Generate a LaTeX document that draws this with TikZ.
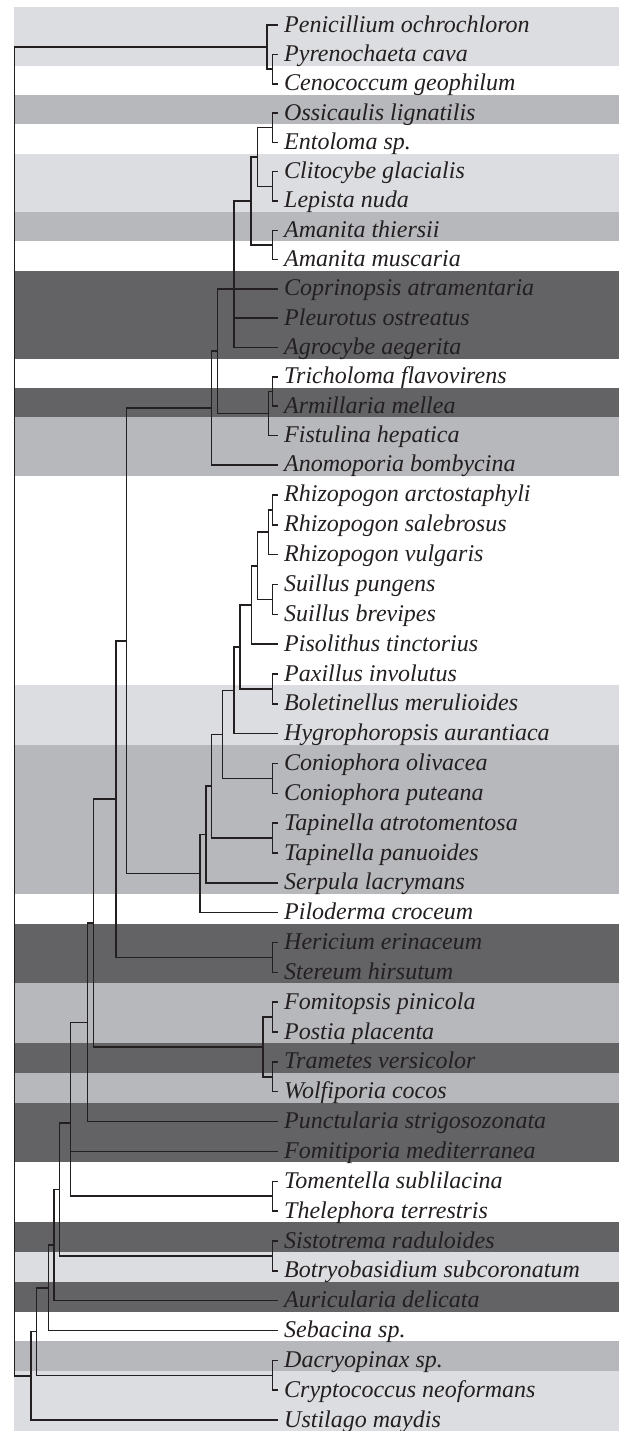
\documentclass[tikz,border=0pt]{standalone}
\usepackage{fontspec}
\setmainfont{Liberation Serif}
\usetikzlibrary{calc}

\definecolor{ink}{RGB}{35,31,32}
\definecolor{bandlight}{RGB}{220,221,224}
\definecolor{bandmid}{RGB}{183,184,188}
\definecolor{banddark}{RGB}{99,99,102}

\begin{document}
\begin{tikzpicture}[x=1pt, y=-1pt,
		taxon/.style={anchor=west, inner xsep=6.5pt, inner ysep=0pt, text height=17pt, text depth=3pt, text=ink, font=\fontsize{24}{28}\selectfont\itshape},
		branch/.style={draw=ink, line width=1.5pt}]
		%canvas
		\fill[white] (0,0) rectangle (619,1431);
		
		%variables
		\def\tip{277.5}
		\def\ch{272.5}
		
		%bands
		\fill[bandlight] (14,7) rectangle (619,65.6);
		\fill[bandmid] (14,94.9) rectangle (619,124.2);
		\fill[bandlight] (14,153.6) rectangle (619,212.2);
		\fill[bandmid] (14,212.2) rectangle (619,241.5);
		\fill[banddark] (14,270.8) rectangle (619,358.7);
		\fill[banddark] (14,388.0) rectangle (619,417.3);
		\fill[bandmid] (14,417.3) rectangle (619,476);
		\fill[bandlight] (14,684.9) rectangle (619,744.6);
		\fill[bandmid] (14,744.6) rectangle (619,893.8);
		\fill[banddark] (14,923.6) rectangle (619,983.3);
		\fill[bandmid] (14,983.3) rectangle (619,1043.0);
		\fill[banddark] (14,1043.0) rectangle (619,1072.8);
		\fill[bandmid] (14,1072.8) rectangle (619,1102.7);
		\fill[banddark] (14,1102.7) rectangle (619,1162.4);
		\fill[banddark] (14,1222.0) rectangle (619,1251.8);
		\fill[bandlight] (14,1251.8) rectangle (619,1281.7);
		\fill[banddark] (14,1281.7) rectangle (619,1311.5);
		\fill[bandmid] (14,1341.4) rectangle (619,1371.2);
		\fill[bandlight] (14,1371.2) rectangle (619,1431);
		
		%taxa
		\node[taxon] (pen) at (\tip,25.2) {Penicillium ochrochloron};
		\node[taxon] (pyr) at (\tip,54.5) {Pyrenochaeta cava};
		\node[taxon] (cen) at (\tip,83.8) {Cenococcum geophilum};
		\node[taxon] (oss) at (\tip,113.1) {Ossicaulis lignatilis};
		\node[taxon] (ent) at (\tip,142.4) {Entoloma sp.};
		\node[taxon] (cli) at (\tip,171.7) {Clitocybe glacialis};
		\node[taxon] (lep) at (\tip,201.0) {Lepista nuda};
		\node[taxon] (ath) at (\tip,230.3) {Amanita thiersii};
		\node[taxon] (amu) at (\tip,259.6) {Amanita muscaria};
		\node[taxon] (cop) at (\tip,288.9) {Coprinopsis atramentaria};
		\node[taxon] (ple) at (\tip,318.2) {Pleurotus ostreatus};
		\node[taxon] (agr) at (\tip,347.5) {Agrocybe aegerita};
		\node[taxon] (tri) at (\tip,376.9) {Tricholoma flavovirens};
		\node[taxon] (arm) at (\tip,406.2) {Armillaria mellea};
		\node[taxon] (fis) at (\tip,435.5) {Fistulina hepatica};
		\node[taxon] (ano) at (\tip,464.8) {Anomoporia bombycina};
		\node[taxon] (rar) at (\tip,494.9) {Rhizopogon arctostaphyli};
		\node[taxon] (rsa) at (\tip,524.8) {Rhizopogon salebrosus};
		\node[taxon] (rvu) at (\tip,554.6) {Rhizopogon vulgaris};
		\node[taxon] (spu) at (\tip,584.4) {Suillus pungens};
		\node[taxon] (sbr) at (\tip,614.3) {Suillus brevipes};
		\node[taxon] (pis) at (\tip,644.1) {Pisolithus tinctorius};
		\node[taxon] (pax) at (\tip,674.0) {Paxillus involutus};
		\node[taxon] (bol) at (\tip,703.8) {Boletinellus merulioides};
		\node[taxon] (hyg) at (\tip,733.6) {Hygrophoropsis aurantiaca};
		\node[taxon] (col) at (\tip,763.5) {Coniophora olivacea};
		\node[taxon] (cpu) at (\tip,793.3) {Coniophora puteana};
		\node[taxon] (tat) at (\tip,823.2) {Tapinella atrotomentosa};
		\node[taxon] (tpa) at (\tip,853.0) {Tapinella panuoides};
		\node[taxon] (ser) at (\tip,882.9) {Serpula lacrymans};
		\node[taxon] (pil) at (\tip,912.7) {Piloderma croceum};
		\node[taxon] (her) at (\tip,942.5) {Hericium erinaceum};
		\node[taxon] (ste) at (\tip,972.4) {Stereum hirsutum};
		\node[taxon] (fpi) at (\tip,1002.2) {Fomitopsis pinicola};
		\node[taxon] (pos) at (\tip,1032.1) {Postia placenta};
		\node[taxon] (tve) at (\tip,1061.9) {Trametes versicolor};
		\node[taxon] (wol) at (\tip,1091.7) {Wolfiporia cocos};
		\node[taxon] (pun) at (\tip,1121.6) {Punctularia strigosozonata};
		\node[taxon] (fme) at (\tip,1151.4) {Fomitiporia mediterranea};
		\node[taxon] (tom) at (\tip,1181.3) {Tomentella sublilacina};
		\node[taxon] (thel) at (\tip,1211.1) {Thelephora terrestris};
		\node[taxon] (sis) at (\tip,1241.0) {Sistotrema raduloides};
		\node[taxon] (bot) at (\tip,1270.8) {Botryobasidium subcoronatum};
		\node[taxon] (aur) at (\tip,1300.6) {Auricularia delicata};
		\node[taxon] (seb) at (\tip,1330.5) {Sebacina sp.};
		\node[taxon] (dac) at (\tip,1360.3) {Dacryopinax sp.};
		\node[taxon] (cry) at (\tip,1390.2) {Cryptococcus neoformans};
		\node[taxon] (ust) at (\tip,1420.0) {Ustilago maydis};
		
		%clades (x fixed, y halfway between children)
		\path let \p1=($(pyr)!.5!(cen)$) in coordinate (asc2) at (\ch,\y1);
		\path let \p1=($(pen)!.5!(asc2)$) in coordinate (asc1) at (267,\y1);
		
		\path let \p1=($(oss)!.5!(ent)$) in coordinate (ag1) at (\ch,\y1);
		\path let \p1=($(cli)!.5!(lep)$) in coordinate (ag2) at (\ch,\y1);
		\path let \p1=($(ag1)!.5!(ag2)$) in coordinate (ag3) at (257.3,\y1);
		\path let \p1=($(ath)!.5!(amu)$) in coordinate (ag4) at (\ch,\y1);
		\path let \p1=($(ag3)!.5!(ag4)$) in coordinate (ag5) at (251,\y1);
		\path let \p1=($.25*(ag5)+.25*(cop)+.25*(ple)+.25*(agr)$) in coordinate (ag6) at (234,\y1);
		\path let \p1=($(tri)!.5!(arm)$) in coordinate (ag7) at (\ch,\y1);
		\path let \p1=($(ag7)!.5!(fis)$) in coordinate (ag8) at (268.3,\y1);
		\path let \p1=($(ag6)!.5!(ag8)$) in coordinate (ag9) at (217.3,\y1);
		\path let \p1=($(ag9)!.5!(ano)$) in coordinate (ag10) at (211.5,\y1);
		
		\path let \p1=($(rar)!.5!(rsa)$) in coordinate (bo1) at (\ch,\y1);
		\path let \p1=($(bo1)!.5!(rvu)$) in coordinate (bo2) at (268.3,\y1);
		\path let \p1=($(spu)!.5!(sbr)$) in coordinate (bo3) at (\ch,\y1);
		\path let \p1=($(bo2)!.5!(bo3)$) in coordinate (bo4) at (257.3,\y1);
		\path let \p1=($(bo4)!.5!(pis)$) in coordinate (bo5) at (251.5,\y1);
		\path let \p1=($(pax)!.5!(bol)$) in coordinate (bo6) at (\ch,\y1);
		\path let \p1=($(bo5)!.5!(bo6)$) in coordinate (bo7) at (240,\y1);
		\path let \p1=($(bo7)!.5!(hyg)$) in coordinate (bo8) at (234,\y1);
		\path let \p1=($(col)!.5!(cpu)$) in coordinate (bo9) at (\ch,\y1);
		\path let \p1=($(bo8)!.5!(bo9)$) in coordinate (bo10) at (222.7,\y1);
		\path let \p1=($(tat)!.5!(tpa)$) in coordinate (bo11) at (\ch,\y1);
		\path let \p1=($(bo10)!.5!(bo11)$) in coordinate (bo12) at (211.7,\y1);
		\path let \p1=($(bo12)!.5!(ser)$) in coordinate (bo13) at (206,\y1);
		\path let \p1=($(bo13)!.5!(pil)$) in coordinate (bo14) at (200,\y1);
		
		\path let \p1=($(ag10)!.5!(bo14)$) in coordinate (ab1) at (126.3,\y1);
		\path let \p1=($(her)!.5!(ste)$) in coordinate (rs1) at (\ch,\y1);
		\path let \p1=($(ab1)!.5!(rs1)$) in coordinate (ab2) at (116,\y1);
		\path let \p1=($(fpi)!.5!(pos)$) in coordinate (po1) at (\ch,\y1);
		\path let \p1=($(tve)!.5!(wol)$) in coordinate (po2) at (\ch,\y1);
		\path let \p1=($(po1)!.5!(po2)$) in coordinate (po3) at (263,\y1);
		\path let \p1=($(ab2)!.5!(po3)$) in coordinate (ab3) at (93.3,\y1);
		\path let \p1=($(ab3)!.5!(pun)$) in coordinate (ab4) at (87.3,\y1);
		\path let \p1=($(tom)!.5!(thel)$) in coordinate (th1) at (\ch,\y1);
		\path let \p1=($.3333*(ab4)+.3333*(fme)+.3333*(th1)$) in coordinate (ab5) at (70.7,\y1);
		\path let \p1=($(sis)!.5!(bot)$) in coordinate (ca1) at (\ch,\y1);
		\path let \p1=($(ab5)!.5!(ca1)$) in coordinate (ab6) at (59.3,\y1);
		\path let \p1=($(ab6)!.5!(aur)$) in coordinate (ab7) at (54,\y1);
		\path let \p1=($(ab7)!.5!(seb)$) in coordinate (ab8) at (48.3,\y1);
		
		\path let \p1=($(dac)!.5!(cry)$) in coordinate (da1) at (\ch,\y1);
		\path let \p1=($(ab8)!.5!(da1)$) in coordinate (bas2) at (36.7,\y1);
		\path let \p1=($(bas2)!.5!(ust)$) in coordinate (bas1) at (31,\y1);
		\path let \p1=($(asc1)!.5!(bas1)$) in coordinate (root) at (14.5,\y1);
		
		%Ascomycota
		\draw[branch] (pyr) -| (asc2) |- (cen);
		\draw[branch] (pen) -| (asc1) |- (asc2);
		
		%Agaricales
		\draw[branch] (oss) -| (ag1) |- (ent);
		\draw[branch] (cli) -| (ag2) |- (lep);
		\draw[branch] (ag1) -| (ag3) |- (ag2);
		\draw[branch] (ath) -| (ag4) |- (amu);
		\draw[branch] (ag3) -| (ag5) |- (ag4);
		\draw[branch] (ag5) -| (ag6) |- (agr);
		\draw[branch] (ag6 |- cop) -- (cop);
		\draw[branch] (ag6 |- ple) -- (ple);
		\draw[branch] (tri) -| (ag7) |- (arm);
		\draw[branch] (ag7) -| (ag8) |- (fis);
		\draw[branch] (ag6) -| (ag9) |- (ag8);
		\draw[branch] (ag9) -| (ag10) |- (ano);
		
		%Boletales
		\draw[branch] (rar) -| (bo1) |- (rsa);
		\draw[branch] (bo1) -| (bo2) |- (rvu);
		\draw[branch] (spu) -| (bo3) |- (sbr);
		\draw[branch] (bo2) -| (bo4) |- (bo3);
		\draw[branch] (bo4) -| (bo5) |- (pis);
		\draw[branch] (pax) -| (bo6) |- (bol);
		\draw[branch] (bo5) -| (bo7) |- (bo6);
		\draw[branch] (bo7) -| (bo8) |- (hyg);
		\draw[branch] (col) -| (bo9) |- (cpu);
		\draw[branch] (bo8) -| (bo10) |- (bo9);
		\draw[branch] (tat) -| (bo11) |- (tpa);
		\draw[branch] (bo10) -| (bo12) |- (bo11);
		\draw[branch] (bo12) -| (bo13) |- (ser);
		\draw[branch] (bo13) -| (bo14) |- (pil);
		
		%Agaricomycetes
		\draw[branch] (ag10) -| (ab1) |- (bo14);
		\draw[branch] (her) -| (rs1) |- (ste);
		\draw[branch] (ab1) -| (ab2) |- (rs1);
		\draw[branch] (fpi) -| (po1) |- (pos);
		\draw[branch] (tve) -| (po2) |- (wol);
		\draw[branch] (po1) -| (po3) |- (po2);
		\draw[branch] (ab2) -| (ab3) |- (po3);
		\draw[branch] (ab3) -| (ab4) |- (pun);
		\draw[branch] (tom) -| (th1) |- (thel);
		\draw[branch] (ab4) -| (ab5) |- (th1);
		\draw[branch] (ab5 |- fme) -- (fme);
		\draw[branch] (sis) -| (ca1) |- (bot);
		\draw[branch] (ab5) -| (ab6) |- (ca1);
		\draw[branch] (ab6) -| (ab7) |- (aur);
		\draw[branch] (ab7) -| (ab8) |- (seb);
		
		%Basidiomycota and root
		\draw[branch] (dac) -| (da1) |- (cry);
		\draw[branch] (ab8) -| (bas2) |- (da1);
		\draw[branch] (bas2) -| (bas1) |- (ust);
		\draw[branch] (asc1) -| (root) |- (bas1);
	\end{tikzpicture}
\end{document}
